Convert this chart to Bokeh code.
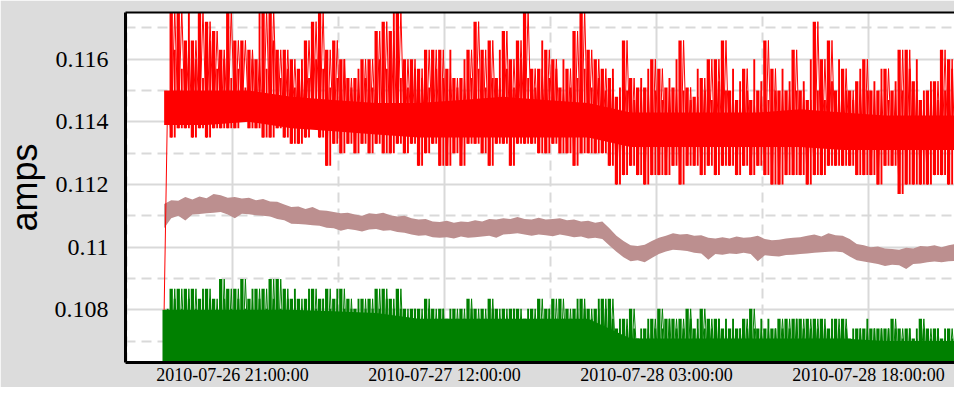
import numpy as np
import pandas as pd
from bokeh.plotting import figure
from bokeh.models import Range1d, FixedTicker, LinearAxis
from bokeh.embed import file_html
from bokeh.resources import INLINE

# ---------------- data ----------------
# Extremes of the current signals: every 30 minutes a low, a high and a
# secondary high a quarter of an hour later
extreme_start = "2010-07-26 16:10:00"
extreme_minutes = 30

red_lo = [0.1080, 0.1135, 0.1138, 0.1138, 0.1135, 0.1138, 0.1135, 0.1138, 0.1138, 0.1138,
          0.1138, 0.1142, 0.1138, 0.1138, 0.1135, 0.1135, 0.1138, 0.1135, 0.1133, 0.1133,
          0.1135, 0.1138, 0.1135, 0.1126, 0.1133, 0.1130, 0.1133, 0.1130, 0.1133, 0.1130,
          0.1133, 0.1130, 0.1130, 0.1133, 0.1130, 0.1133, 0.1126, 0.1130, 0.1133, 0.1126,
          0.1126, 0.1130, 0.1126, 0.1133, 0.1133, 0.1130, 0.1126, 0.1133, 0.1133, 0.1126,
          0.1133, 0.1133, 0.1133, 0.1130, 0.1130, 0.1133, 0.1130, 0.1130, 0.1126, 0.1130,
          0.1130, 0.1130, 0.1130, 0.1126, 0.1120, 0.1123, 0.1126, 0.1123, 0.1120, 0.1123,
          0.1123, 0.1123, 0.1126, 0.1120, 0.1126, 0.1126, 0.1123, 0.1126, 0.1123, 0.1126,
          0.1126, 0.1123, 0.1126, 0.1123, 0.1126, 0.1123, 0.1120, 0.1120, 0.1123, 0.1123,
          0.1123, 0.1120, 0.1123, 0.1123, 0.1126, 0.1126, 0.1126, 0.1126, 0.1123, 0.1123,
          0.1123, 0.1120, 0.1126, 0.1126, 0.1117, 0.1120, 0.1120, 0.1120, 0.1120, 0.1123,
          0.1123, 0.1120, 0.1120, 0.1123, 0.1123, 0.1126]
red_hi = [0.1148, 0.1176, 0.1176, 0.1166, 0.1166, 0.1176, 0.1172, 0.1169, 0.1163, 0.1176,
          0.1166, 0.1166, 0.1163, 0.1160, 0.1176, 0.1176, 0.1163, 0.1163, 0.1160, 0.1157,
          0.1166, 0.1172, 0.1176, 0.1163, 0.1166, 0.1160, 0.1154, 0.1154, 0.1160, 0.1160,
          0.1169, 0.1172, 0.1169, 0.1176, 0.1160, 0.1160, 0.1157, 0.1163, 0.1163, 0.1163,
          0.1157, 0.1154, 0.1154, 0.1163, 0.1172, 0.1163, 0.1166, 0.1154, 0.1169, 0.1160,
          0.1166, 0.1176, 0.1157, 0.1157, 0.1163, 0.1160, 0.1151, 0.1157, 0.1169, 0.1176,
          0.1163, 0.1160, 0.1157, 0.1154, 0.1148, 0.1166, 0.1154, 0.1151, 0.1151, 0.1160,
          0.1157, 0.1151, 0.1151, 0.1166, 0.1151, 0.1148, 0.1154, 0.1160, 0.1160, 0.1166,
          0.1150, 0.1147, 0.1157, 0.1147, 0.1150, 0.1166, 0.1157, 0.1150, 0.1150, 0.1163,
          0.1150, 0.1147, 0.1172, 0.1160, 0.1166, 0.1150, 0.1157, 0.1150, 0.1153, 0.1160,
          0.1150, 0.1150, 0.1157, 0.1150, 0.1163, 0.1163, 0.1153, 0.1147, 0.1150, 0.1153,
          0.1163, 0.1160, 0.1163, 0.1144, 0.1150, 0.1153]
red_mid = [0.1152, 0.1163, 0.1157, 0.1176, 0.1160, 0.1154, 0.1166, 0.1157, 0.1160, 0.1154,
           0.1157, 0.1151, 0.1160, 0.1176, 0.1157, 0.1166, 0.1154, 0.1157, 0.1151, 0.1160,
           0.1154, 0.1160, 0.1157, 0.1151, 0.1154, 0.1160, 0.1151, 0.1157, 0.1154, 0.1151,
           0.1160, 0.1157, 0.1176, 0.1154, 0.1151, 0.1157, 0.1154, 0.1151, 0.1157, 0.1154,
           0.1163, 0.1151, 0.1160, 0.1154, 0.1157, 0.1151, 0.1154, 0.1163, 0.1157, 0.1151,
           0.1160, 0.1154, 0.1151, 0.1166, 0.1154, 0.1157, 0.1160, 0.1151, 0.1154, 0.1157,
           0.1151, 0.1154, 0.1150, 0.1157, 0.1151, 0.1150, 0.1147, 0.1154, 0.1157, 0.1150,
           0.1147, 0.1154, 0.1160, 0.1150, 0.1147, 0.1157, 0.1150, 0.1147, 0.1153, 0.1150,
           0.1157, 0.1153, 0.1150, 0.1160, 0.1153, 0.1147, 0.1150, 0.1157, 0.1153, 0.1150,
           0.1153, 0.1160, 0.1150, 0.1147, 0.1153, 0.1160, 0.1150, 0.1147, 0.1157, 0.1150,
           0.1153, 0.1157, 0.1147, 0.1153, 0.1150, 0.1157, 0.1160, 0.1150, 0.1153, 0.1147,
           0.1150, 0.1157, 0.1153, 0.1150, 0.1157, 0.1150]

green_lo = [0.1058, 0.1059, 0.1058, 0.1060, 0.1059, 0.1058, 0.1059, 0.1060, 0.1058, 0.1059,
            0.1058, 0.1059, 0.1060, 0.1058, 0.1059, 0.1058, 0.1059, 0.1060, 0.1058, 0.1059,
            0.1058, 0.1059, 0.1060, 0.1058, 0.1059, 0.1058, 0.1059, 0.1060, 0.1058, 0.1059,
            0.1058, 0.1059, 0.1060, 0.1058, 0.1059, 0.1058, 0.1059, 0.1060, 0.1058, 0.1059,
            0.1058, 0.1059, 0.1060, 0.1058, 0.1059, 0.1058, 0.1059, 0.1060, 0.1058, 0.1059,
            0.1058, 0.1059, 0.1060, 0.1058, 0.1059, 0.1058, 0.1059, 0.1060, 0.1058, 0.1059,
            0.1058, 0.1059, 0.1060, 0.1058, 0.1059, 0.1058, 0.1059, 0.1060, 0.1058, 0.1059,
            0.1058, 0.1059, 0.1060, 0.1058, 0.1059, 0.1058, 0.1059, 0.1060, 0.1058, 0.1059,
            0.1058, 0.1059, 0.1060, 0.1058, 0.1059, 0.1058, 0.1059, 0.1060, 0.1058, 0.1059,
            0.1058, 0.1059, 0.1060, 0.1058, 0.1059, 0.1058, 0.1059, 0.1060, 0.1058, 0.1059,
            0.1058, 0.1059, 0.1060, 0.1058, 0.1059, 0.1058, 0.1059, 0.1060, 0.1058, 0.1059,
            0.1058, 0.1059, 0.1060, 0.1058, 0.1059, 0.1058]
green_hi = [0.10800, 0.10867, 0.10867, 0.10867, 0.10867, 0.10835, 0.10867, 0.10835, 0.10898, 0.10867,
            0.10867, 0.10898, 0.10835, 0.10867, 0.10867, 0.10898, 0.10898, 0.10867, 0.10835, 0.10835,
            0.10835, 0.10867, 0.10835, 0.10867, 0.10835, 0.10867, 0.10835, 0.10803, 0.10835, 0.10835,
            0.10867, 0.10867, 0.10835, 0.10867, 0.10803, 0.10803, 0.10803, 0.10835, 0.10803, 0.10803,
            0.10771, 0.10803, 0.10803, 0.10835, 0.10803, 0.10803, 0.10835, 0.10803, 0.10803, 0.10803,
            0.10803, 0.10771, 0.10803, 0.10835, 0.10803, 0.10835, 0.10835, 0.10803, 0.10803, 0.10835,
            0.10803, 0.10803, 0.10835, 0.10835, 0.10740, 0.10771, 0.10803, 0.10708, 0.10740, 0.10771,
            0.10803, 0.10771, 0.10771, 0.10771, 0.10803, 0.10740, 0.10803, 0.10771, 0.10771, 0.10740,
            0.10740, 0.10740, 0.10771, 0.10803, 0.10740, 0.10740, 0.10740, 0.10771, 0.10771, 0.10771,
            0.10771, 0.10771, 0.10771, 0.10771, 0.10740, 0.10771, 0.10771, 0.10708, 0.10740, 0.10740,
            0.10740, 0.10740, 0.10740, 0.10771, 0.10740, 0.10740, 0.10708, 0.10771, 0.10740, 0.10740,
            0.10708, 0.10740, 0.10740, 0.10740, 0.10771, 0.10740]
green_mid = [0.10803, 0.10835, 0.10803, 0.10835, 0.10803, 0.10867, 0.10835, 0.10803, 0.10835, 0.10803,
             0.10835, 0.10803, 0.10867, 0.10835, 0.10803, 0.10835, 0.10803, 0.10835, 0.10867, 0.10803,
             0.10867, 0.10803, 0.10835, 0.10803, 0.10867, 0.10803, 0.10803, 0.10835, 0.10803, 0.10803,
             0.10803, 0.10835, 0.10803, 0.10803, 0.10771, 0.10803, 0.10771, 0.10803, 0.10771, 0.10803,
             0.10803, 0.10771, 0.10771, 0.10803, 0.10771, 0.10771, 0.10803, 0.10771, 0.10771, 0.10803,
             0.10771, 0.10803, 0.10771, 0.10771, 0.10803, 0.10771, 0.10771, 0.10771, 0.10835, 0.10803,
             0.10771, 0.10835, 0.10803, 0.10771, 0.10771, 0.10740, 0.10740, 0.10740, 0.10771, 0.10740,
             0.10740, 0.10771, 0.10740, 0.10740, 0.10771, 0.10771, 0.10740, 0.10740, 0.10771, 0.10771,
             0.10771, 0.10740, 0.10740, 0.10740, 0.10771, 0.10771, 0.10740, 0.10740, 0.10740, 0.10771,
             0.10740, 0.10740, 0.10740, 0.10740, 0.10771, 0.10740, 0.10740, 0.10740, 0.10740, 0.10771,
             0.10740, 0.10740, 0.10740, 0.10740, 0.10708, 0.10740, 0.10740, 0.10740, 0.10708, 0.10740,
             0.10740, 0.10708, 0.10740, 0.10740, 0.10740, 0.10740]

# Mean trace (rosy brown): upper and lower edge every 30 minutes
brown_hi = [0.11138, 0.11150, 0.11148, 0.11160, 0.11152, 0.11162, 0.11156, 0.11170, 0.11166, 0.11158,
            0.11160, 0.11155, 0.11158, 0.11150, 0.11154, 0.11146, 0.11145, 0.11136, 0.11128, 0.11130,
            0.11122, 0.11128, 0.11118, 0.11116, 0.11112, 0.11108, 0.11110, 0.11104, 0.11100, 0.11108,
            0.11106, 0.11110, 0.11102, 0.11098, 0.11100, 0.11092, 0.11088, 0.11090, 0.11082, 0.11080,
            0.11084, 0.11078, 0.11082, 0.11080, 0.11086, 0.11082, 0.11090, 0.11088, 0.11092, 0.11090,
            0.11096, 0.11090, 0.11088, 0.11094, 0.11088, 0.11090, 0.11092, 0.11086, 0.11088, 0.11082,
            0.11084, 0.11078, 0.11082, 0.11060, 0.11036, 0.11020, 0.11006, 0.11004, 0.11008, 0.11020,
            0.11030, 0.11036, 0.11044, 0.11040, 0.11042, 0.11036, 0.11038, 0.11030, 0.11028, 0.11032,
            0.11028, 0.11034, 0.11030, 0.11032, 0.11036, 0.11026, 0.11022, 0.11024, 0.11028, 0.11030,
            0.11032, 0.11036, 0.11040, 0.11034, 0.11044, 0.11038, 0.11036, 0.11026, 0.11010, 0.11006,
            0.11000, 0.11002, 0.10996, 0.10994, 0.10992, 0.10998, 0.10996, 0.11004, 0.11002, 0.11006,
            0.11000, 0.11006, 0.11010, 0.11004, 0.11008, 0.11006]
brown_lo = [0.11060, 0.11092, 0.11100, 0.11085, 0.11104, 0.11106, 0.11108, 0.11110, 0.11112, 0.11104,
            0.11092, 0.11107, 0.11105, 0.11102, 0.11100, 0.11098, 0.11090, 0.11086, 0.11075, 0.11074,
            0.11072, 0.11070, 0.11068, 0.11062, 0.11060, 0.11052, 0.11058, 0.11055, 0.11050, 0.11056,
            0.11058, 0.11052, 0.11054, 0.11048, 0.11046, 0.11040, 0.11036, 0.11038, 0.11032, 0.11030,
            0.11032, 0.11028, 0.11034, 0.11030, 0.11032, 0.11034, 0.11036, 0.11030, 0.11040, 0.11042,
            0.11044, 0.11040, 0.11036, 0.11040, 0.11038, 0.11035, 0.11040, 0.11036, 0.11032, 0.11034,
            0.11028, 0.11030, 0.11026, 0.11005, 0.10985, 0.10968, 0.10955, 0.10958, 0.10952, 0.10965,
            0.10978, 0.10986, 0.10992, 0.10990, 0.10988, 0.10982, 0.10980, 0.10960, 0.10978, 0.10976,
            0.10980, 0.10978, 0.10982, 0.10978, 0.10955, 0.10974, 0.10972, 0.10970, 0.10975, 0.10976,
            0.10978, 0.10980, 0.10982, 0.10984, 0.10985, 0.10986, 0.10984, 0.10970, 0.10958, 0.10954,
            0.10950, 0.10946, 0.10940, 0.10944, 0.10942, 0.10930, 0.10946, 0.10948, 0.10952, 0.10954,
            0.10952, 0.10955, 0.10956, 0.10956, 0.10955, 0.10958]

# Dense body of the red and green traces, every 3 hours
core_start = "2010-07-26 16:10:00"
core_minutes = 180
red_core_lo = [0.1139, 0.1139, 0.1140, 0.1138, 0.1137, 0.1136, 0.1135, 0.1135, 0.1135, 0.1135,
               0.1135, 0.1132, 0.1132, 0.1132, 0.1132, 0.1132, 0.1131, 0.1131, 0.1131, 0.1131, 0.1131]
red_core_hi = [0.1150, 0.1150, 0.1150, 0.1148, 0.1147, 0.1146, 0.1146, 0.1147, 0.1148, 0.1147,
               0.1146, 0.1143, 0.1143, 0.1143, 0.1143, 0.1144, 0.1143, 0.1142, 0.1142, 0.1142, 0.1142]
green_core_lo = [0.1058, 0.1058, 0.1058, 0.1058, 0.1058, 0.1058, 0.1058, 0.1058, 0.1058, 0.1058,
                 0.1058, 0.1058, 0.1058, 0.1058, 0.1058, 0.1058, 0.1058, 0.1058, 0.1058, 0.1058, 0.1058]
green_core_hi = [0.10800, 0.10800, 0.10800, 0.10800, 0.10795, 0.10790, 0.10771, 0.10771, 0.10771, 0.10771,
                 0.10771, 0.10708, 0.10708, 0.10708, 0.10708, 0.10708, 0.10708, 0.10700, 0.10700, 0.10700, 0.10700]

# Axes
x_tick_labels = ["2010-07-26 21:00:00", "2010-07-27 12:00:00",
                 "2010-07-28 03:00:00", "2010-07-28 18:00:00"]
x_minor_ticks = ["2010-07-26 13:30:00", "2010-07-27 04:30:00", "2010-07-27 19:30:00",
                 "2010-07-28 10:30:00", "2010-07-29 01:30:00"]
y_ticks = [0.108, 0.110, 0.112, 0.114, 0.116]
y_tick_labels = ["0.108", "0.11", "0.112", "0.114", "0.116"]
y_minor_ticks = [0.107, 0.109, 0.111, 0.113, 0.115, 0.117]
y_label = "amps"

# ---------------- helpers ----------------
def ms(s):
    return pd.Timestamp(s).value / 1e6

def times(start, minutes, n):
    return ms(start) + np.arange(n) * minutes * 60000.0

def alternate(start, minutes, lo, hi):
    t = times(start, minutes, len(lo))
    xs = np.column_stack([t, t + minutes * 30000.0]).ravel()
    ys = np.column_stack([np.array(lo), np.array(hi)]).ravel()
    return xs, ys

# ---------------- figure ----------------
p = figure(width=954, height=387, x_axis_type="datetime",
           x_range=Range1d(ms("2010-07-26 13:26:00"), ms("2010-07-29 00:05:00")),
           y_range=Range1d(0.106317, 0.117492),
           output_backend="svg", toolbar_location=None,
           min_border_left=125, min_border_right=0, min_border_top=12, min_border_bottom=23)
p.border_fill_color = "#dcdcdc"
p.background_fill_color = "white"
p.outline_line_color = None

# grids
xt = FixedTicker(ticks=[ms(s) for s in x_tick_labels], minor_ticks=[ms(s) for s in x_minor_ticks])
yt = FixedTicker(ticks=y_ticks, minor_ticks=y_minor_ticks)
p.xaxis.ticker = xt
p.yaxis.ticker = yt
p.xgrid.ticker = xt
p.ygrid.ticker = yt
for g in (p.xgrid, p.ygrid):
    g.grid_line_color = "#d9d9d9"
    g.grid_line_width = 2
    g.minor_grid_line_color = "#d9d9d9"
    g.minor_grid_line_width = 2
    g.minor_grid_line_dash = "10 6"

# axes
for ax in (p.xaxis, p.yaxis):
    ax.axis_line_color = "black"
    ax.axis_line_width = 3
    ax.major_tick_line_color = None
    ax.minor_tick_line_color = None
    ax.major_tick_in = 0
    ax.major_tick_out = 0
    ax.minor_tick_in = 0
    ax.minor_tick_out = 0
    ax.major_label_text_font = "Liberation Serif"
    ax.major_label_text_color = "black"

p.xaxis.major_label_text_font_size = "18px"
p.xaxis.major_label_standoff = 2
p.xaxis.major_label_overrides = {ms(s): s for s in x_tick_labels}

p.yaxis.major_label_text_font_size = "24px"
p.yaxis.major_label_standoff = 17
p.yaxis.major_label_overrides = {v: s for v, s in zip(y_ticks, y_tick_labels)}
p.yaxis.axis_label = y_label
p.yaxis.axis_label_text_font = "Liberation Sans"
p.yaxis.axis_label_text_font_size = "36px"
p.yaxis.axis_label_text_font_style = "normal"
p.yaxis.axis_label_text_color = "black"
p.yaxis.axis_label_standoff = 7

top = LinearAxis(ticker=FixedTicker(ticks=[]), axis_line_color="black", axis_line_width=2,
                 major_tick_line_color=None, minor_tick_line_color=None,
                 major_tick_in=0, major_tick_out=0, minor_tick_in=0, minor_tick_out=0,
                 major_label_text_font_size="0px")
p.add_layout(top, "above")

# ---------------- glyphs ----------------
te = times(extreme_start, extreme_minutes, len(red_hi))
tm = te + 15 * 60000.0
tc = times(core_start, core_minutes, len(red_core_hi))
main_w = 14 * 60000.0   # bar widths in ms
mid_w = 8 * 60000.0

# mean (rosy brown band)
p.varea(x=te, y1=brown_lo, y2=brown_hi, fill_color="#bc8f8f")

# minimum (green)
p.varea(x=tc, y1=green_core_lo, y2=green_core_hi, fill_color="#008000")
p.vbar(x=te, bottom=green_lo, top=green_hi, width=main_w, fill_color="#008000", line_color=None)
p.vbar(x=tm, bottom=green_lo, top=green_mid, width=mid_w, fill_color="#008000", line_color=None)
gx, gy = alternate(extreme_start, extreme_minutes, green_lo, green_hi)
p.line(gx, gy, line_color="#008000", line_width=1)

# maximum (red)
p.varea(x=tc, y1=red_core_lo, y2=red_core_hi, fill_color="#ff0000")
p.vbar(x=te[1:], bottom=red_lo[1:], top=red_hi[1:], width=main_w, fill_color="#ff0000", line_color=None)
p.vbar(x=tm[1:], bottom=red_lo[1:], top=red_mid[1:], width=mid_w, fill_color="#ff0000", line_color=None)
rx, ry = alternate(extreme_start, extreme_minutes, red_lo, red_hi)
p.line(rx, ry, line_color="#ff0000", line_width=1)

open("out.html", "w").write(file_html(p, INLINE))
